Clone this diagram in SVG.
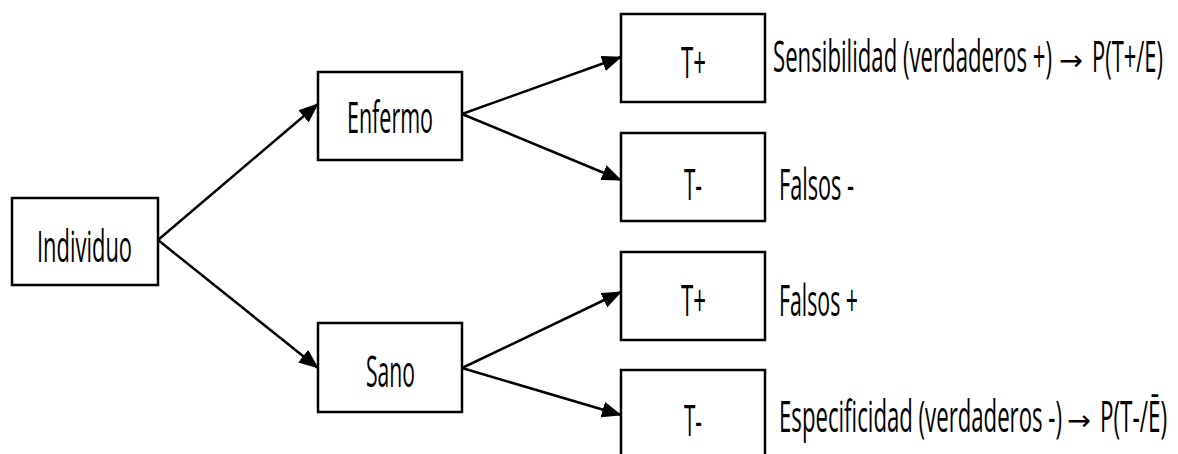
<svg xmlns="http://www.w3.org/2000/svg" width="1178" height="454" viewBox="0 0 1178 454">
<style>
.box{fill:#fff;stroke:#000;stroke-width:2.5}
.t{font-family:"Open Sans","Noto Sans","DejaVu Sans",sans-serif;font-size:22px;fill:#000}
.ar{font-family:"DejaVu Sans",sans-serif;font-size:28px;fill:#000}
.c{stroke:#000;stroke-width:2.5;fill:none;marker-end:url(#ah)}
</style>
<defs>
<marker id="ah" markerWidth="20" markerHeight="16" refX="19" refY="8" orient="auto" markerUnits="userSpaceOnUse">
<path d="M0,0 L20,8 L0,16 Z" fill="#000"/>
</marker>
</defs>
<rect width="1178" height="454" fill="#fff"/>
<g id="connectors">
<line class="c" x1="158" y1="240" x2="318" y2="104"/>
<line class="c" x1="158" y1="240" x2="318" y2="368"/>
<line class="c" x1="462" y1="114" x2="621" y2="57"/>
<line class="c" x1="462" y1="114" x2="621" y2="180"/>
<line class="c" x1="462" y1="368" x2="621" y2="292"/>
<line class="c" x1="462" y1="368" x2="621" y2="415"/>
</g>
<g id="individuo">
<rect class="box" x="12" y="198" width="146" height="87"/>
<text class="t" transform="translate(37,262) scale(1,2)" textLength="95" lengthAdjust="spacingAndGlyphs">Individuo</text>
</g>
<g id="enfermo">
<rect class="box" x="318" y="72" width="144" height="88"/>
<text class="t" transform="translate(347,133) scale(1,2)" textLength="86" lengthAdjust="spacingAndGlyphs">Enfermo</text>
</g>
<g id="sano">
<rect class="box" x="318" y="323" width="144" height="89"/>
<text class="t" transform="translate(366,387) scale(1,2)" textLength="49" lengthAdjust="spacingAndGlyphs">Sano</text>
</g>
<g id="tpos1">
<rect class="box" x="621" y="14" width="144" height="88"/>
<text class="t" transform="translate(681,78) scale(1,2)" textLength="25" lengthAdjust="spacingAndGlyphs">T+</text>
</g>
<g id="tneg1">
<rect class="box" x="621" y="133" width="144" height="88"/>
<text class="t" transform="translate(684,200) scale(1,2)" textLength="18" lengthAdjust="spacingAndGlyphs">T-</text>
</g>
<g id="tpos2">
<rect class="box" x="621" y="252" width="144" height="88"/>
<text class="t" transform="translate(681,316) scale(1,2)" textLength="25" lengthAdjust="spacingAndGlyphs">T+</text>
</g>
<g id="tneg2">
<rect class="box" x="621" y="370" width="144" height="90"/>
<text class="t" transform="translate(684,436) scale(1,2)" textLength="18" lengthAdjust="spacingAndGlyphs">T-</text>
</g>
<g id="labels">
<text class="t" transform="translate(773,72) scale(1,2)" textLength="279" lengthAdjust="spacingAndGlyphs">Sensibilidad (verdaderos +)</text>
<text class="ar" x="1059" y="70" textLength="24" lengthAdjust="spacingAndGlyphs">→</text>
<text class="t" transform="translate(1092,72) scale(1,2)" textLength="71" lengthAdjust="spacingAndGlyphs">P(T+/E)</text>
<text class="t" transform="translate(779,200) scale(1,2)" textLength="75" lengthAdjust="spacingAndGlyphs">Falsos -</text>
<text class="t" transform="translate(779,316) scale(1,2)" textLength="79" lengthAdjust="spacingAndGlyphs">Falsos +</text>
<text class="t" transform="translate(779,432) scale(1,2)" textLength="283" lengthAdjust="spacingAndGlyphs">Especificidad (verdaderos -)</text>
<text class="ar" x="1067" y="430" textLength="24" lengthAdjust="spacingAndGlyphs">→</text>
<text class="t" transform="translate(1100,432) scale(1,2)" textLength="67" lengthAdjust="spacingAndGlyphs">P(T-/Ē)</text>
</g>
</svg>
